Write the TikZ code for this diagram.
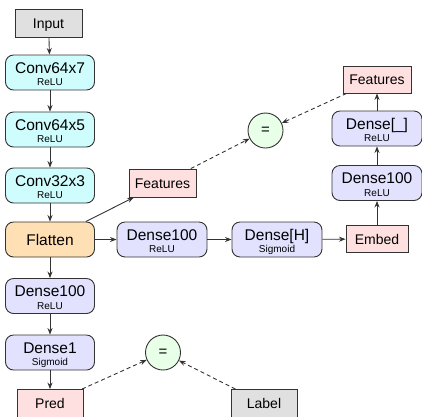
\documentclass[tikz,border=0pt]{standalone}
\usepackage{fontspec}
\setmainfont{Liberation Sans}
\usetikzlibrary{arrows.meta}
\definecolor{cgray}{HTML}{E0E0E0}
\definecolor{ccyan}{HTML}{CFFCFC}
\definecolor{corange}{HTML}{FFE0B4}
\definecolor{clav}{HTML}{E2E2FF}
\definecolor{cpink}{HTML}{FFE0E0}
\definecolor{cgreen}{HTML}{E8FFE8}
\definecolor{bd}{HTML}{333333}
\newcommand\twol[2]{\vbox{\offinterlineskip\halign{\hfil##\hfil\cr\vrule height15.5pt depth0pt width0pt\smash{\fontsize{15.5}{15.5}\selectfont #1}\cr\vrule height12.5pt depth2pt width0pt\smash{\fontsize{10}{10}\selectfont #2}\cr}}}
\tikzset{
  rnode/.style={draw=bd, line width=0.9pt, rounded corners=8pt, minimum width=89pt, minimum height=35pt, inner sep=0pt},
  onel/.style={font=\fontsize{15.5}{15.5}\selectfont, text height=11pt, text depth=0pt},
  rbox/.style={draw=bd, line width=0.9pt, minimum width=66pt, minimum height=28pt, inner sep=0pt, font=\fontsize{14}{14}\selectfont, text height=10pt, text depth=0pt},
  eqc/.style={draw=bd, line width=0.9pt, circle, minimum size=35pt, inner sep=0pt, fill=cgreen, font=\fontsize{15}{15}\selectfont},
  conn/.style={draw=bd, line width=0.9pt, -{Stealth[length=6.5pt,width=5pt]}},
  dconn/.style={conn, dash pattern=on 4pt off 3pt}
}
\begin{document}
\begin{tikzpicture}[x=1pt,y=-1pt]
\useasboundingbox (0,0) rectangle (422,416);
\node[rbox, fill=cgray, minimum width=67pt] (inp) at (48.5,23) {Input};
\node[rnode, fill=ccyan] (c1) at (50,72.5) {\twol{Conv64x7}{ReLU}};
\node[rnode, fill=ccyan] (c2) at (50,129.5) {\twol{Conv64x5}{ReLU}};
\node[rnode, fill=ccyan] (c3) at (50,185.5) {\twol{Conv32x3}{ReLU}};
\node[rnode, onel, fill=corange] (fl) at (50,239.5) {Flatten};
\node[rnode, fill=clav] (d1) at (50,296) {\twol{Dense100}{ReLU}};
\node[rnode, fill=clav] (d2) at (50,352.5) {\twol{Dense1}{Sigmoid}};
\node[rbox, fill=cpink] (pred) at (50,403.5) {Pred};
\node[rbox, fill=cpink, minimum width=67pt] (feat) at (162.5,183) {Features};
\node[eqc] (eq1) at (265.5,130.5) {=};
\node[rnode, fill=clav, minimum width=90pt] (dm) at (162,239.5) {\twol{Dense100}{ReLU}};
\node[rnode, fill=clav, minimum width=90pt] (dh) at (277,239.5) {\twol{Dense[H]}{Sigmoid}};
\node[rbox, fill=cpink, minimum width=62pt, minimum height=27pt] (emb) at (377,239) {Embed};
\node[rnode, fill=clav, minimum width=90pt] (dr) at (377,183) {\twol{Dense100}{ReLU}};
\node[rnode, fill=clav, minimum width=90pt] (du) at (377,128.5) {\twol{Dense[\_]}{ReLU}};
\node[rbox, fill=cpink, minimum width=68pt, minimum height=27pt] (feat2) at (377,79.5) {Features};
\node[eqc] (eq2) at (163,352.5) {=};
\node[rbox, fill=cgray] (lab) at (264,403.5) {Label};
\draw[conn] (inp) -- (c1);
\draw[conn] (c1) -- (c2);
\draw[conn] (c2) -- (c3);
\draw[conn] (c3) -- (fl);
\draw[conn] (fl) -- (d1);
\draw[conn] (d1) -- (d2);
\draw[conn] (d2) -- (pred);
\draw[conn] (fl) -- (feat);
\draw[conn] (fl) -- (dm);
\draw[conn] (dm) -- (dh);
\draw[conn] (dh) -- (emb);
\draw[conn] (emb) -- (dr);
\draw[conn] (dr) -- (du);
\draw[conn] (du) -- (feat2);
\draw[dconn] (feat) -- (eq1);
\draw[dconn] (feat2) -- (eq1);
\draw[dconn] (pred) -- (eq2);
\draw[dconn] (lab) -- (eq2);
\end{tikzpicture}
\end{document}
